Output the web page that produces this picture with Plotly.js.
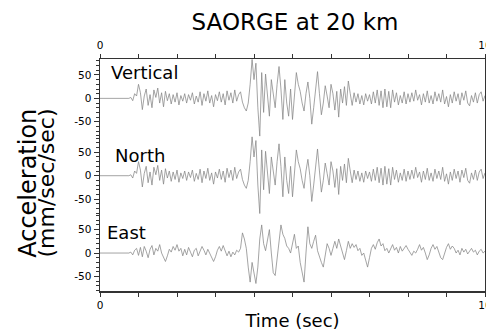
<!DOCTYPE html>
<html>
<head>
<meta charset="utf-8">
<script src="https://cdn.plot.ly/plotly-3.0.1.min.js"></script>
<style>
  html, body { margin: 0; padding: 0; background: #fff; }
  #chart { width: 486px; height: 331px; }
</style>
</head>
<body>
<div id="chart"></div>
<script>
// ---- data ----
const sampleInterval = 0.05;   // seconds between samples
const componentNames = ["Vertical", "North", "East"];
const axisTickValues = [-50, 0, 50];
const axisTickLabels = ["-50", "0", "50"];
const timeTickValues = [0, 10];
const timeTickLabels = ["0", "10"];

const verticalValues = [
  0,0,0,0,0,0,0,0,0,0,0,0,0,0,0,0,
  2,-5,10,5,30,12,-24,5,20,-15,8,-20,18,2,
  22,-10,12,-18,15,-5,10,-12,8,-8,
  12,-14,6,-6,10,-10,8,-4,12,-12,
  5,-8,14,-15,10,-6,16,-10,6,-18,
  8,-5,14,-8,10,-14,16,-4,12,-10,
  18,-6,8,14,-8,-20,-27,-10,30,83,
  40,75,-20,-81,55,-30,52,10,-38,40,
  10,-20,30,68,20,-45,40,-10,-38,20,
  -45,10,55,30,15,-10,-27,10,35,0,
  -55,-20,20,57,10,-35,-10,27,5,-20,
  30,10,-25,15,-40,20,-10,25,-15,37,
  10,-15,12,-8,10,-12,6,-14,10,-6,
  8,-12,14,-10,18,-15,16,-20,20,-18,
  15,-20,18,-8,12,-14,6,-10,14,-12,
  10,-8,12,-6,18,-4,8,-14,10,-8,
  16,-10,6,-12,14,-6,10,-8,18,-12,
  4,-18,8,-10,14,-6,10,-14,12,-4,
  16,-10,-16,6,-8,12,-10,8,14,-6,
  6
];

// In the picture the North trace is drawn identical to the Vertical one.
const northValues = [
  0,0,0,0,0,0,0,0,0,0,0,0,0,0,0,0,
  2,-5,10,5,30,12,-24,5,20,-15,8,-20,18,2,
  22,-10,12,-18,15,-5,10,-12,8,-8,
  12,-14,6,-6,10,-10,8,-4,12,-12,
  5,-8,14,-15,10,-6,16,-10,6,-18,
  8,-5,14,-8,10,-14,16,-4,12,-10,
  18,-6,8,14,-8,-20,-27,-10,30,83,
  40,75,-20,-81,55,-30,52,10,-38,40,
  10,-20,30,68,20,-45,40,-10,-38,20,
  -45,10,55,30,15,-10,-27,10,35,0,
  -55,-20,20,57,10,-35,-10,27,5,-20,
  30,10,-25,15,-40,20,-10,25,-15,37,
  10,-15,12,-8,10,-12,6,-14,10,-6,
  8,-12,14,-10,18,-15,16,-20,20,-18,
  15,-20,18,-8,12,-14,6,-10,14,-12,
  10,-8,12,-6,18,-4,8,-14,10,-8,
  16,-10,6,-12,14,-6,10,-8,18,-12,
  4,-18,8,-10,14,-6,10,-14,12,-4,
  16,-10,-16,6,-8,12,-10,8,14,-6,
  6
];

const eastValues = [
  0,0,0,0,0,0,0,0,0,0,0,0,0,0,0,0,
  2,-4,6,10,-5,12,-8,14,4,-10,8,16,-4,10,
  4,18,0,-10,-18,-6,8,2,14,6,
  18,4,10,-6,8,-4,12,2,-8,6,
  10,-6,4,14,6,-4,8,0,-10,-18,
  -8,6,14,4,16,6,-6,4,-8,2,
  -4,6,2,10,43,30,10,-30,-62,-20,
  -40,-65,-30,30,60,20,5,30,50,0,
  -42,-48,-10,30,60,40,31,15,10,0,
  20,40,10,15,-20,-45,-62,0,56,20,
  10,25,38,5,-10,-20,-30,-5,20,10,
  -5,10,25,10,30,15,0,-14,5,25,
  10,20,12,18,5,10,-5,0,-15,-30,
  -10,10,18,8,22,30,15,20,5,10,
  0,8,18,6,12,0,14,4,10,16,
  8,2,-5,4,0,8,18,6,12,0,
  -14,-4,10,18,8,14,4,-10,-14,0,
  12,20,8,15,10,0,6,-4,10,2,
  8,-2,4,10,2,6,-4,4,8,0,
  4
];

// ---- build ----
const timeValues = verticalValues.map((_, i) => +(i * sampleInterval).toFixed(3));
const seriesList = [verticalValues, northValues, eastValues];
const axisIds = ["y3", "y2", "y"];

const lineColor = "#858585";
const traces = seriesList.map((vals, k) => ({
  type: "scatter",
  mode: "lines",
  name: componentNames[k],
  x: timeValues,
  y: vals,
  xaxis: "x",
  yaxis: axisIds[k],
  line: { color: lineColor, width: 0.75 },
  hoverinfo: "skip"
}));
// invisible trace to activate the top axis
traces.push({
  type: "scatter", mode: "lines", x: timeTickValues, y: [0, 0],
  xaxis: "x2", yaxis: "y2", line: { width: 0 }, hoverinfo: "skip", showlegend: false
});

const axisColor = "#333";
const fontFamily = "'DejaVu Sans', 'Open Sans', sans-serif";

function yAxis(domain) {
  return {
    domain: domain,
    range: [-81, 84],
    tickmode: "array",
    tickvals: axisTickValues,
    ticktext: axisTickLabels,
    ticks: "outside",
    ticklen: 5,
    tickwidth: 1,
    tickcolor: axisColor,
    minor: { dtick: 10, ticklen: 2.5, tickwidth: 1, tickcolor: axisColor, ticks: "outside", tickmode: "linear", tick0: 0 },
    showline: true,
    linecolor: axisColor,
    linewidth: 1.5,
    mirror: true,
    showgrid: false,
    zeroline: false,
    tickfont: { family: fontFamily, size: 10.5, color: "#000" },
    fixedrange: true
  };
}

function xAxisCommon() {
  return {
    range: [0, 10],
    tickmode: "array",
    tickvals: timeTickValues,
    ticktext: timeTickLabels,
    ticks: "outside",
    ticklen: 4,
    tickwidth: 1,
    tickcolor: axisColor,
    minor: { dtick: 1, tick0: 0, ticklen: 4, tickwidth: 1, tickcolor: axisColor, ticks: "outside" },
    showline: true,
    linecolor: axisColor,
    linewidth: 1.5,
    showgrid: false,
    zeroline: false,
    ticklabeloverflow: "allow",
    tickfont: { family: fontFamily, size: 10.5, color: "#000" },
    fixedrange: true
  };
}

const xaxis = Object.assign(xAxisCommon(), {
  anchor: "y",
  title: { text: "Time (sec)", font: { family: fontFamily, size: 18, color: "#000" }, standoff: 4 }
});
const xaxis2 = Object.assign(xAxisCommon(), {
  overlaying: "x",
  side: "top",
  anchor: "y3"
});

const labelFont = { family: fontFamily, size: 18, color: "#000" };
const labelPositions = [
  { x: 0.024, y: 0.94 },
  { x: 0.034, y: 0.586 },
  { x: 0.014, y: 0.254 }
];
const annotations = componentNames.map((name, k) => ({
  text: name,
  xref: "paper", yref: "paper",
  x: labelPositions[k].x, y: labelPositions[k].y,
  xanchor: "left", yanchor: "middle",
  showarrow: false,
  font: labelFont
}));
annotations.push({
  text: "Acceleration",
  xref: "paper", yref: "paper",
  x: -0.186, y: 0.134,
  xanchor: "center", yanchor: "bottom",
  textangle: -90, showarrow: false,
  font: { family: fontFamily, size: 24, color: "#000" }
});
annotations.push({
  text: "(mm/sec/sec)",
  xref: "paper", yref: "paper",
  x: -0.14, y: 0.134,
  xanchor: "center", yanchor: "bottom",
  textangle: -90, showarrow: false,
  font: { family: fontFamily, size: 22, color: "#000" }
});

const layout = {
  width: 486,
  height: 331,
  margin: { l: 100, r: 1, t: 59, b: 40, pad: 0 },
  paper_bgcolor: "#fff",
  plot_bgcolor: "#fff",
  showlegend: false,
  title: {
    text: "SAORGE at 20 km",
    font: { family: fontFamily, size: 23, color: "#000" },
    x: 0.607, xanchor: "center",
    y: 0.934, yanchor: "middle", yref: "container"
  },
  xaxis: xaxis,
  xaxis2: xaxis2,
  yaxis: yAxis([0, 1 / 3]),
  yaxis2: yAxis([1 / 3, 2 / 3]),
  yaxis3: yAxis([2 / 3, 1]),
  annotations: annotations
};

Plotly.newPlot("chart", traces, layout, { displayModeBar: false, staticPlot: true });
</script>
</body>
</html>
